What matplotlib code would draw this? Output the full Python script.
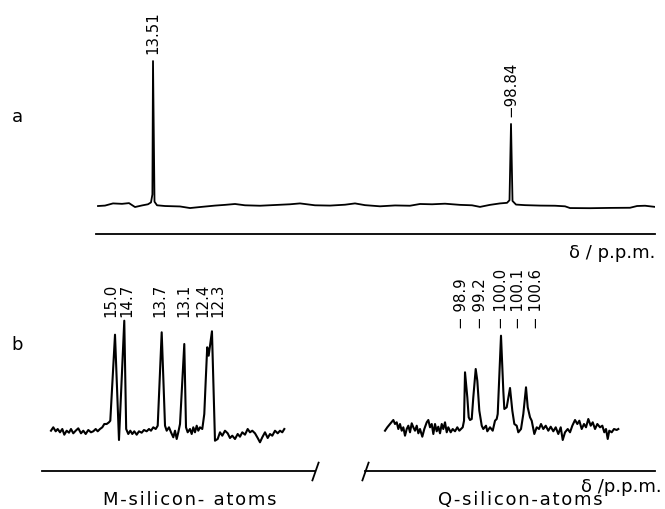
import numpy as np
import matplotlib
matplotlib.use("Agg")
import matplotlib.pyplot as plt

plt.rcParams['font.family'] = ['DejaVu Sans']

# ---------------- data: spectrum a (full range) ----------------
a_shift = [30.77, 28.57, 26.06, 23.24, 21.04, 19.16, 16.96, 15.08, 14.14, 13.70,
           13.51, 13.04, 12.25, 9.74, 5.04, 1.90, -1.24, -5.95, -9.09, -12.22,
           -15.36, -20.07, -24.78, -29.48, -32.62, -37.33, -42.04, -46.74, -49.88, -53.02,
           -57.73, -62.44, -67.14, -70.28, -74.05, -78.13, -82.83, -86.60, -89.11, -92.25,
           -95.39, -97.59, -98.37, -98.84, -99.31, -100.41, -103.24, -107.94, -112.65, -115.79,
           -117.36, -123.64, -129.92, -136.19, -138.39, -140.90, -144.04]
a_intensity = [0, 0.3, 1.8, 1.5, 2.0, -0.7, 0.4, 1.2, 2.5, 8,
               100, 3, 0.5, 0, -0.3, -1.4, -0.7, 0.3, 0.8, 1.4,
               0.5, 0.2, 0.7, 1.2, 1.8, 0.5, 0.3, 0.9, 1.8, 0.6,
               -0.2, 0.4, 0.2, 1.4, 1.2, 1.6, 0.8, 0.5, -0.6, 0.8,
               1.8, 2.2, 4, 56.6, 3.5, 1.0, 0.6, 0.3, 0.2, -0.2,
               -1.4, -1.5, -1.3, -1.2, 0.0, 0.2, -0.6]
a_peak_shift = [13.51, -98.84]
a_peak_height = [100, 56.6]
a_labels = ["13.51", "\u221298.84"]

# ---------------- data: spectrum b, M-silicon region ----------------
m_shift = [16.740, 16.677, 16.611, 16.556, 16.493, 16.430, 16.375, 16.310, 16.247, 16.192,
           16.129, 16.063, 15.992, 15.918, 15.855, 15.789, 15.718, 15.644, 15.581, 15.515,
           15.460, 15.397, 15.334, 15.279, 15.214, 15.151, 15.115, 14.986, 14.877, 14.732,
           14.680, 14.622, 14.567, 14.512, 14.458, 14.392, 14.329, 14.255, 14.192, 14.118,
           14.055, 14.000, 13.937, 13.871, 13.816, 13.707, 13.616, 13.570, 13.507, 13.452,
           13.389, 13.342, 13.296, 13.252, 13.205, 13.088, 13.041, 12.995, 12.932, 12.885,
           12.841, 12.795, 12.748, 12.704, 12.658, 12.595, 12.540, 12.501, 12.460, 12.420,
           12.330, 12.247, 12.173, 12.110, 12.047, 11.973, 11.899, 11.836, 11.773, 11.699,
           11.625, 11.562, 11.499, 11.425, 11.351, 11.288, 11.225, 11.151, 11.077, 11.014,
           10.951, 10.877, 10.803, 10.740, 10.677, 10.603, 10.529, 10.466, 10.403, 10.348]
m_intensity = [1.3, 4.7, 0.7, 3, -0.3, 3, -2.7, 1.3, -0.7, 3,
               -1.3, 1.3, 3.7, -1.3, 1.3, -2, 2, -0.3, 0.7, 3,
               0.7, 3, 4.7, 8, 8, 9.7, 11.3, 97.3, -8, 111.3,
               3, -2, 1.3, -2, 0.7, -2.7, 0.7, -0.7, 2, 0.7,
               3, 1.3, 4.7, 3, 6.3, 99.7, 6.3, 1.3, 4.7, -0.3,
               -5.3, 1.3, -7, -0.3, 8, 88, 4.7, -0.3, 3, -2,
               4.7, -0.3, 6.3, 1.3, 4.7, 3, 18, 51.3, 84.7, 76.3,
               100.7, -8.7, -7, -0.3, -3.7, 1.3, -1.3, -6, -3.7, -7,
               -2, -4.7, -0.3, -2.7, 3, -0.3, 1.3, -1.3, -6, -10.3,
               -5.3, -0.3, -6, -2, -3.7, 1.3, -1.3, 1.3, -0.3, 3]
m_label_shift = [15.0, 14.7, 13.7, 13.1, 12.4, 12.3]
m_labels = ["15.0", "14.7", "13.7", "13.1", "12.4", "12.3"]

# ---------------- data: spectrum b, Q-silicon region (magnitudes, ppm negative) ----------------
q_shift_mag = [96.708, 96.771, 96.845, 96.936, 96.982, 97.029, 97.073, 97.119, 97.166, 97.210,
               97.256, 97.303, 97.347, 97.393, 97.440, 97.484, 97.530, 97.577, 97.621, 97.667,
               97.730, 97.785, 97.851, 97.895, 97.941, 97.988, 98.032, 98.078, 98.125, 98.168,
               98.215, 98.262, 98.305, 98.352, 98.399, 98.442, 98.508, 98.563, 98.626, 98.689,
               98.744, 98.790, 98.837, 98.873, 98.900, 98.963, 99.001, 99.037, 99.084, 99.127,
               99.193, 99.237, 99.292, 99.358, 99.401, 99.475, 99.511, 99.585, 99.659, 99.722,
               99.768, 99.796, 99.886, 99.949, 99.977, 100.042, 100.133, 100.196, 100.251, 100.316,
               100.360, 100.434, 100.497, 100.571, 100.618, 100.681, 100.727, 100.799, 100.864, 100.927,
               100.982, 101.045, 101.111, 101.182, 101.248, 101.319, 101.385, 101.456, 101.522, 101.577,
               101.640, 101.714, 101.777, 101.840, 101.914, 101.977, 102.032, 102.097, 102.160, 102.215,
               102.278, 102.344, 102.399, 102.462, 102.525, 102.599, 102.662, 102.716, 102.763, 102.810,
               102.853, 102.919, 102.982, 103.056, 103.100]
q_intensity = [1.3, 4.7, 8, 12, 8, 9.7, 3, 8, 1.3, 4.7,
               -3.7, 3, 6.3, -0.3, 8.7, 4.7, 1.3, 6.3, -1.3, 3,
               -4.7, 3, 9.7, 12, 4.7, 8, -2, 8, 0.7, 5.3,
               -1.3, 8, 3, 9.7, -0.3, 4.7, -0.3, 3, 0.7, 4.7,
               1.3, 3, 4.7, 11.3, 59.7, 34.7, 14.7, 12, 13, 34.7,
               63, 51.3, 21.3, 6.3, 3, 6.3, 0.7, 4.7, 1.3, 11.3,
               13, 18, 96.3, 41.3, 23, 24.7, 44, 21.3, 8, 6.3,
               -0.3, 3, 18, 44.7, 24.7, 14.7, 11.3, -2, 4.7, 3,
               8, 3, 6.3, 1.3, 5.3, 0.7, 4.7, -2, 4.7, -8,
               -0.3, 3, -0.3, 6.3, 12, 8, 11.3, 3, 8, 4.7,
               13, 6.3, 9.7, 3, 8, 4.7, 6.3, -0.3, 3, -7,
               1.3, -0.3, 3, 2, 3]
q_label_shift = [-98.9, -99.2, -100.0, -100.1, -100.6]
q_labels = ["\u2212 98.9", "\u2212 99.2", "\u2212 100.0", "\u2212 100.1", "\u2212 100.6"]

# ---------------- layout (pixels of a 665 x 510 canvas) ----------------
W, H = 665, 510
fig = plt.figure(figsize=(W / 100, H / 100), dpi=100)
fig.patch.set_facecolor('white')

def box(x0, x1, ytop, ybot):
    return [x0 / W, 1 - ybot / H, (x1 - x0) / W, (ybot - ytop) / H]

def style(ax):
    ax.set_xticks([])
    ax.set_yticks([])
    for s in ('top', 'left', 'right'):
        ax.spines[s].set_visible(False)
    ax.spines['bottom'].set_linewidth(1.3)
    ax.patch.set_alpha(0)

lab_size = 10.8
px2pt = 0.72

# panel a
ax_a = fig.add_axes(box(96, 655, 0, 235))
style(ax_a)
ax_a.plot(a_shift, a_intensity, color='black', lw=1.3)
ax_a.set_xlim(31.40, -144.03)
ax_a.set_ylim(-19.3, 142.8)
for s, h, t in zip(a_peak_shift, a_peak_height, a_labels):
    ax_a.annotate(t, xy=(s, h), xytext=(0, 6.0), textcoords='offset points',
                  rotation=90, ha='center', va='bottom', fontsize=lab_size)

# panel b, M region
ax_m = fig.add_axes(box(42, 315, 265, 472))
style(ax_m)
ax_m.plot(m_shift, m_intensity, color='black', lw=1.5)
ax_m.set_xlim(16.986, 9.507)
ax_m.set_ylim(-39, 168)
m_dx = [-3.5, 1.0, -2.0, -0.3, -6.4, 5.0]
for s, t, d in zip(m_label_shift, m_labels, m_dx):
    ax_m.annotate(t, xy=(s, 116), xytext=(d * px2pt, 0), textcoords='offset points',
                  rotation=90, ha='center', va='bottom', fontsize=lab_size)

# panel b, Q region
ax_q = fig.add_axes(box(365, 655, 265, 472))
style(ax_q)
ax_q.plot([-v for v in q_shift_mag], q_intensity, color='black', lw=1.5)
ax_q.set_xlim(-96.16, -104.105)
ax_q.set_ylim(-39, 168)
q_dx = [-4.0, 4.5, -3.2, 9.7, 9.0]
for s, t, d in zip(q_label_shift, q_labels, q_dx):
    ax_q.annotate(t, xy=(s, 104), xytext=(d * px2pt, 0), textcoords='offset points',
                  rotation=90, ha='center', va='bottom', fontsize=lab_size)

# broken-axis slashes
slash = [(-0.35, -1), (0.35, 1)]
ax_m.plot([1], [0], transform=ax_m.transAxes, marker=slash, markersize=14,
          mew=1.3, color='black', clip_on=False, linestyle='none')
ax_q.plot([0], [0], transform=ax_q.transAxes, marker=slash, markersize=14,
          mew=1.3, color='black', clip_on=False, linestyle='none')

# texts
fig.text(17 / W, 1 - 117 / H, "a", fontsize=13, ha='center', va='center')
fig.text(17 / W, 1 - 345 / H, "b", fontsize=13, ha='center', va='center')
fig.text(655 / W, 1 - 253 / H, "\u03b4 / p.p.m.", fontsize=13, ha='right', va='center')
fig.text(662 / W, 1 - 487 / H, "\u03b4 /p.p.m.", fontsize=13, ha='right', va='center')

def spaced(t):
    return "\u200a".join(t)

fig.text(190 / W, 1 - 500 / H, spaced("M-silicon- atoms"), fontsize=13, ha='center', va='center')
fig.text(520 / W, 1 - 500 / H, spaced("Q-silicon-atoms"), fontsize=13, ha='center', va='center')

fig.savefig("out.png", dpi=100, facecolor='white')
